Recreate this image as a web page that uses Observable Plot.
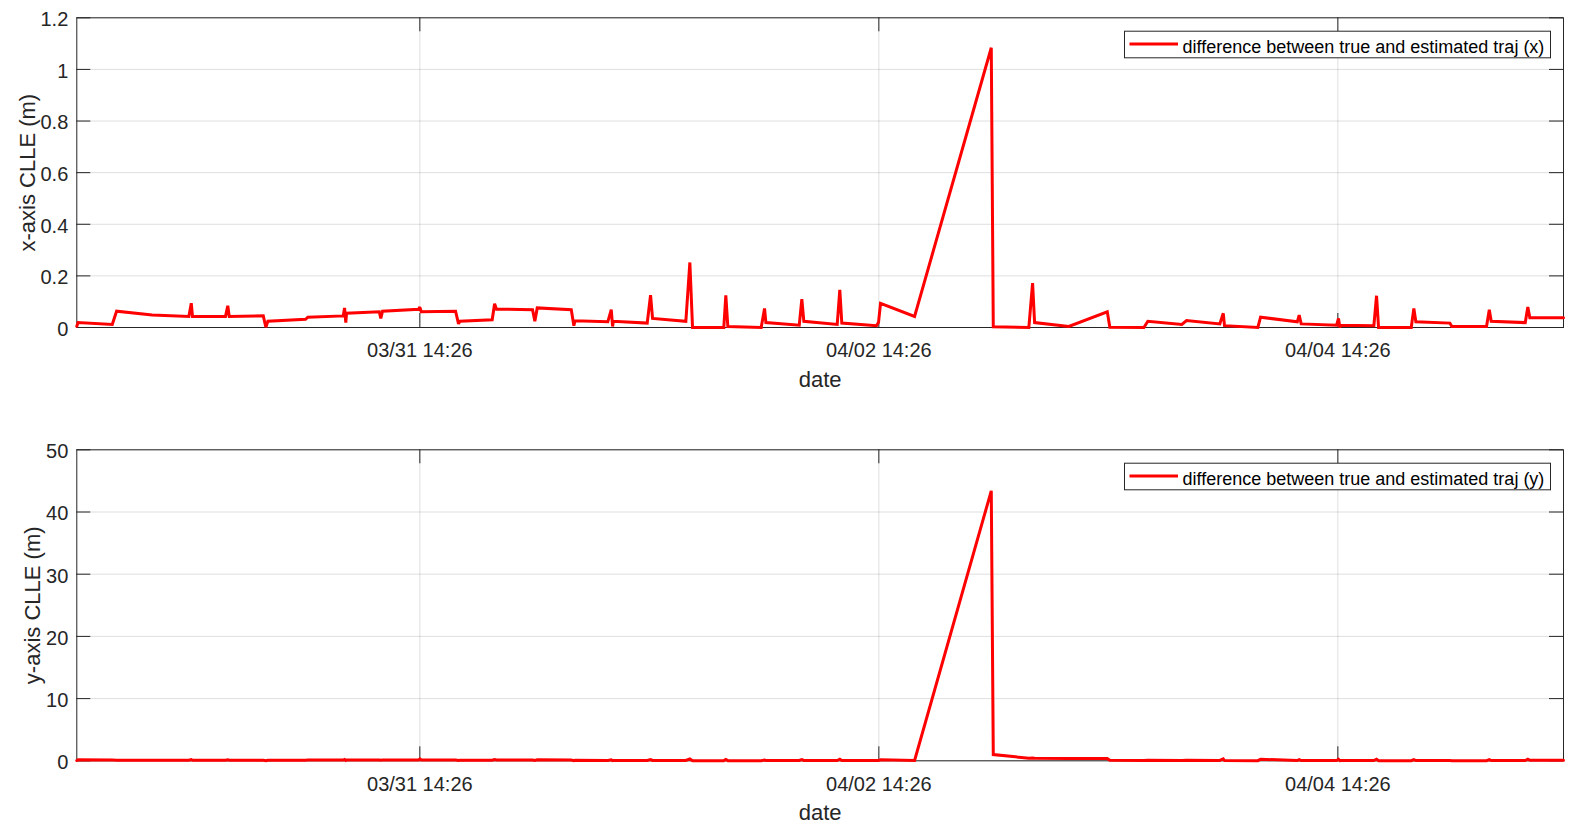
<!DOCTYPE html>
<html>
<head>
<meta charset="utf-8">
<script src="https://cdn.jsdelivr.net/npm/d3@7"></script>
<script src="https://cdn.jsdelivr.net/npm/@observablehq/plot@0.6"></script>
<style>
  html, body { margin: 0; padding: 0; background: #fff; }
  #fig { position: relative; width: 1574px; height: 828px; }
  #fig svg { display: block; }
</style>
</head>
<body>
<div id="fig"></div>
<script>
// ---- Data ----
// time of each sample, in hours after 03/30 00:00
const baseDate = [2020, 2, 30];
const hours = [
  2.56, 2.69, 6.27, 6.72, 10.45, 14.28, 14.53, 14.66, 18.11, 18.35,
  18.50, 22.06, 22.33, 22.54, 26.48, 26.72, 30.42, 30.56, 30.69, 30.77,
  34.19, 34.35, 34.53, 38.30, 38.43, 38.58, 42.17, 42.48, 42.62, 46.00,
  46.25, 46.45, 50.22, 50.46, 50.71, 54.27, 54.54, 54.66, 58.09, 58.45,
  58.59, 58.66, 62.21, 62.56, 62.77, 66.25, 66.67, 66.95, 70.22, 70.43,
  70.64, 74.13, 74.48, 74.62, 78.11, 78.38, 78.59, 82.08, 82.35, 82.56,
  86.19, 86.40, 86.61, 90.17, 98.19, 98.40, 102.12, 102.51, 102.72, 106.30,
  110.32, 110.59, 114.15, 114.56, 118.12, 118.61, 122.09, 122.45, 122.58, 126.07,
  126.35, 130.19, 130.39, 130.60, 134.30, 134.50, 134.64, 134.77, 138.20, 138.48,
  138.69, 142.11, 142.38, 142.59, 146.15, 146.35, 149.98, 150.27, 150.47, 154.03,
  154.30, 154.51, 158.03
];
// x-axis CLLE (m)
const xErr = [
  0.005, 0.019, 0.012, 0.063, 0.048, 0.043, 0.094, 0.043, 0.043, 0.084,
  0.043, 0.045, 0.001, 0.024, 0.032, 0.040, 0.045, 0.076, 0.019, 0.055,
  0.061, 0.035, 0.063, 0.071, 0.079, 0.061, 0.063, 0.014, 0.024, 0.030,
  0.092, 0.071, 0.069, 0.024, 0.076, 0.069, 0.007, 0.026, 0.022, 0.069,
  0.004, 0.024, 0.017, 0.125, 0.035, 0.024, 0.252, 0.000, 0.000, 0.125,
  0.004, 0.000, 0.074, 0.019, 0.009, 0.110, 0.024, 0.012, 0.146, 0.017,
  0.007, 0.020, 0.094, 0.043, 1.084, 0.003, 0.000, 0.172, 0.019, 0.004,
  0.061, 0.001, 0.000, 0.024, 0.012, 0.027, 0.014, 0.055, 0.007, 0.000,
  0.040, 0.022, 0.048, 0.014, 0.009, 0.035, 0.001, 0.009, 0.007, 0.123,
  0.000, 0.000, 0.074, 0.022, 0.017, 0.004, 0.004, 0.069, 0.024, 0.019,
  0.079, 0.038, 0.038
];
// y-axis CLLE (m)
const yErr = [
  0.05, 0.15, 0.12, 0.10, 0.08, 0.08, 0.20, 0.08, 0.08, 0.15,
  0.08, 0.08, 0.02, 0.10, 0.10, 0.12, 0.12, 0.20, 0.05, 0.12,
  0.12, 0.08, 0.12, 0.12, 0.30, 0.12, 0.12, 0.05, 0.08, 0.08,
  0.20, 0.12, 0.12, 0.05, 0.15, 0.12, 0.02, 0.08, 0.06, 0.15,
  0.02, 0.06, 0.05, 0.20, 0.06, 0.06, 0.30, 0.02, 0.02, 0.20,
  0.02, 0.02, 0.12, 0.05, 0.05, 0.20, 0.06, 0.05, 0.25, 0.05,
  0.05, 0.06, 0.15, 0.05, 43.4, 1.00, 0.42, 0.45, 0.42, 0.35,
  0.35, 0.08, 0.03, 0.08, 0.05, 0.08, 0.05, 0.30, 0.03, 0.02,
  0.25, 0.05, 0.20, 0.05, 0.03, 0.25, 0.02, 0.05, 0.03, 0.25,
  0.02, 0.02, 0.20, 0.05, 0.05, 0.02, 0.02, 0.20, 0.05, 0.05,
  0.25, 0.08, 0.08
];
const xDomainHours = [2.56, 158.03];
const xTickHours = [38 + 26/60, 86 + 26/60, 134 + 26/60];
const yTicksTop = [0, 0.2, 0.4, 0.6, 0.8, 1, 1.2];
const yTicksBottom = [0, 10, 20, 30, 40, 50];
const yLabels = ["x-axis CLLE (m)", "y-axis CLLE (m)"];
const xLabel = "date";
const legendLabels = ["difference between true and estimated traj (x)", "difference between true and estimated traj (y)"];

// ---- Build ----
const T0 = Date.UTC(baseDate[0], baseDate[1], baseDate[2]);
const toDate = h => new Date(T0 + h * 3600e3);
const xDomain = xDomainHours.map(toDate);
const xTicks = xTickHours.map(toDate);
const fmt = d3.utcFormat("%m/%d %H:%M");
const dataX = hours.map((h, i) => ({t: toDate(h), v: xErr[i]}));
const dataY = hours.map((h, i) => ({t: toDate(h), v: yErr[i]}));

const W = 1574, H = 414;
const ML = 76.3, MR = 11;
const AX = "#262626";
const FONT = "'Liberation Sans', Arial, Helvetica, sans-serif";

function panel({data, yTicks, ylabel, legend, mt, mb, labelX, legendTop}) {
  const pw = W - ML - MR;
  const ph = H - mt - mb;
  const chart = Plot.plot({
    width: W, height: H,
    marginLeft: ML, marginRight: MR, marginTop: mt, marginBottom: mb,
    style: {fontFamily: FONT, fontSize: "20px", color: AX, background: "white", overflow: "visible"},
    x: {type: "utc", domain: xDomain},
    y: {domain: [yTicks[0], yTicks[yTicks.length - 1]]},
    marks: [
      Plot.gridX(xTicks, {stroke: AX, strokeOpacity: 0.15, strokeWidth: 1}),
      Plot.gridY(yTicks, {stroke: AX, strokeOpacity: 0.15, strokeWidth: 1}),
      Plot.frame({stroke: AX, strokeWidth: 1}),
      Plot.tickX(xTicks, {x: d => d, insetTop: ph - 14, stroke: AX}),
      Plot.tickX(xTicks, {x: d => d, insetBottom: ph - 14, stroke: AX}),
      Plot.tickY(yTicks, {y: d => d, insetRight: pw - 14, stroke: AX}),
      Plot.tickY(yTicks, {y: d => d, insetLeft: pw - 14, stroke: AX}),
      Plot.axisX(xTicks, {tickSize: 0, tickPadding: 15.5, tickFormat: fmt, label: null, fill: AX}),
      Plot.axisY(yTicks, {tickSize: 0, tickPadding: 8.5, tickFormat: d => String(d), label: null, fill: AX, dy: 2}),
      Plot.text([xLabel], {text: d => d, frameAnchor: "bottom", dy: 52, fontSize: 22, lineAnchor: "middle", fill: AX}),
      Plot.text([ylabel], {text: d => d, frameAnchor: "left", textAnchor: "middle", rotate: -90, dx: -(ML - labelX), fontSize: 22, lineAnchor: "middle", fill: AX}),
      Plot.line(data, {x: "t", y: "v", stroke: "#ff0000", strokeWidth: 3, strokeLinejoin: "miter", strokeMiterlimit: 2})
    ]
  });
  // legend box (pixel layout)
  const svg = d3.select(chart);
  const g = svg.append("g");
  const bx = 1124, bw = 426, bh = 26.6, by = legendTop;
  const cy = by + bh / 2;
  g.append("rect").attr("x", bx + 0.5).attr("y", by + 0.5).attr("width", bw).attr("height", bh)
    .attr("fill", "white").attr("stroke", AX).attr("stroke-width", 1);
  g.append("line").attr("x1", bx + 5.5).attr("x2", bx + 54).attr("y1", cy).attr("y2", cy)
    .attr("stroke", "#ff0000").attr("stroke-width", 3);
  g.append("text").attr("x", bx + 58.5).attr("y", cy + 8.7).attr("text-anchor", "start")
    .attr("font-family", FONT).attr("font-size", 18).attr("fill", "#000").text(legend);
  return chart;
}

const fig = document.getElementById("fig");
fig.appendChild(panel({data: dataX, yTicks: yTicksTop, ylabel: yLabels[0], legend: legendLabels[0], mt: 17.3, mb: 87, labelX: 27, legendTop: 30.7}));
fig.appendChild(panel({data: dataY, yTicks: yTicksBottom, ylabel: yLabels[1], legend: legendLabels[1], mt: 35.3, mb: 67.7, labelX: 32, legendTop: 48.7}));
</script>
</body>
</html>
